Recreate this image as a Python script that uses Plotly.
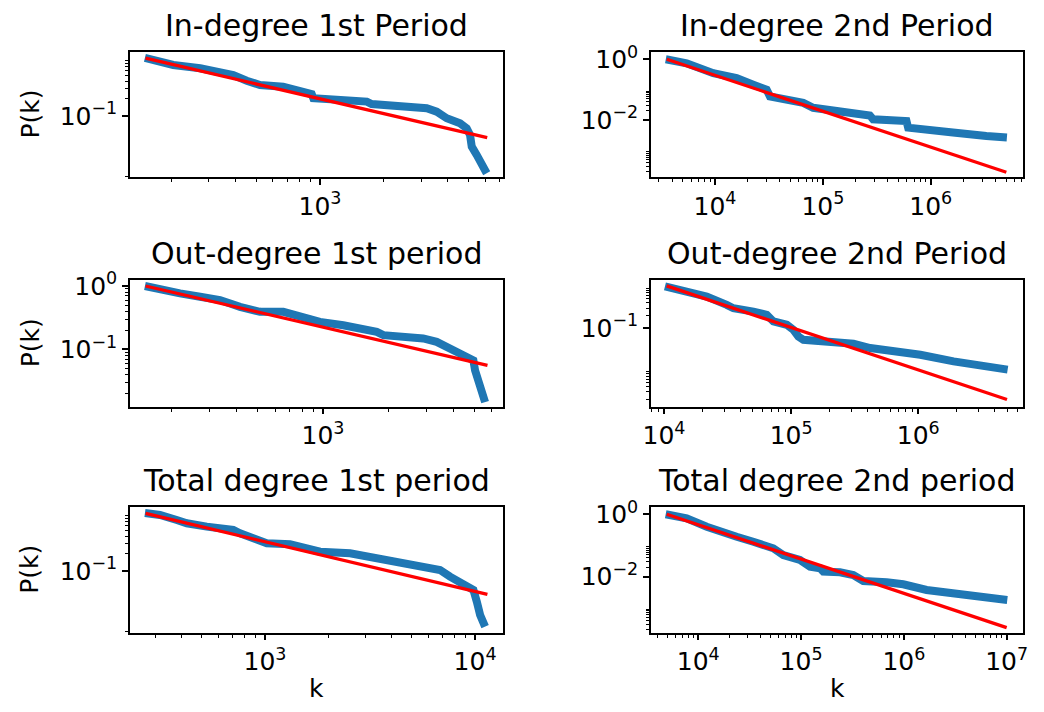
import plotly.graph_objects as go

# page size and the browser's default 8px body margin
PAGE_W, PAGE_H = 1044, 712
BODY = 8
W, H = PAGE_W - 2 * BODY, PAGE_H - 2 * BODY

# ---------------- data ----------------
titles = ["In-degree 1st Period", "In-degree 2nd Period",
          "Out-degree 1st period", "Out-degree 2nd Period",
          "Total degree 1st period", "Total degree 2nd period"]

in1_k = [150, 204, 273, 339, 391, 452, 522, 671, 805, 914, 930, 1155, 1385, 1660,
         1750, 1985, 2378, 2850, 3178, 3540, 3945, 4560, 4900, 5080, 5175, 5460, 5765, 6085]
in1_p = [1.0, 0.757, 0.664, 0.581, 0.509, 0.406, 0.342, 0.320, 0.281, 0.239, 0.202, 0.194,
         0.184, 0.177, 0.161, 0.155, 0.149, 0.145, 0.136, 0.119, 0.0913, 0.0748, 0.0614,
         0.047, 0.0296, 0.0213, 0.0153, 0.0103]
in1_fit_k = [151, 6120]
in1_fit_p = [0.99, 0.0423]

in2_k = [3500, 5470, 9640, 15890, 22640, 30130, 32310, 46100, 65760, 81330, 133900,
         190900, 272500, 292400, 389000, 595800, 617000, 791000, 1607000, 3280000, 5080000]
in2_p = [1.0, 0.741, 0.350, 0.240, 0.146, 0.1, 0.0605, 0.0472, 0.0369, 0.0254, 0.0197,
         0.0174, 0.0142, 0.0106, 0.0100, 0.00927, 0.00565, 0.00498, 0.00389, 0.00301, 0.00267]
in2_fit_k = [3575, 5020000]
in2_fit_p = [1.0, 0.000194]

out1_k = [150, 176, 218, 270, 334, 413, 511, 655, 783, 968, 1241, 1483, 1773, 1903, 2270,
          2911, 3357, 3739, 4307, 4965, 5056, 5240, 5625]
out1_p = [1.0, 0.919, 0.766, 0.676, 0.600, 0.469, 0.391, 0.391, 0.326, 0.271, 0.240, 0.213,
          0.188, 0.167, 0.161, 0.148, 0.131, 0.109, 0.0855, 0.0669, 0.0464, 0.0286, 0.0146]
out1_fit_k = [151, 5770]
out1_fit_p = [1.0, 0.0557]

out2_k = [10180, 15100, 21700, 31170, 35140, 50490, 64400, 72600, 92500, 104300, 114100,
          125000, 169100, 309500, 418800, 567300, 1038000, 1898000, 3478000, 5050000]
out2_p = [1.0, 0.743, 0.565, 0.359, 0.299, 0.248, 0.207, 0.144, 0.120, 0.0912, 0.0631,
          0.0526, 0.048, 0.0423, 0.0334, 0.0304, 0.0231, 0.016, 0.0122, 0.0102]
out2_fit_k = [10500, 4990000]
out2_fit_p = [1.02, 0.00196]

tot1_k = [268, 316, 380, 424, 528, 706, 760, 879, 1019, 1315, 1637, 1828, 2540, 3162, 3800,
          4900, 6105, 6810, 7600, 8480, 9820, 10190, 10570, 11160]
tot1_p = [1.0, 0.925, 0.757, 0.664, 0.581, 0.509, 0.447, 0.366, 0.301, 0.289, 0.246, 0.215,
          0.202, 0.177, 0.155, 0.127, 0.114, 0.104, 0.0798, 0.0614, 0.047, 0.0296, 0.0174, 0.011]
tot1_fit_k = [270, 11450]
tot1_fit_p = [0.98, 0.0396]

tot2_k = [4820, 7710, 12080, 16260, 23640, 34280, 53660, 67150, 97500, 122100, 152800,
          164500, 239000, 322000, 402900, 680000, 986000, 1666000, 3024000, 6380000, 10140000]
tot2_p = [1.0, 0.745, 0.401, 0.277, 0.191, 0.132, 0.0814, 0.0496, 0.0343, 0.0209, 0.0186,
          0.0145, 0.0138, 0.0113, 0.00728, 0.00662, 0.00571, 0.00375, 0.00294, 0.00212, 0.00179]
tot2_fit_k = [4930, 10000000]
tot2_fit_p = [1.0, 0.000232]

# tick values / labels
x_ticks_1 = [1e3]
x_labels_1 = ["10<sup>3</sup>"]
x_ticks_5 = [1e3, 1e4]
x_labels_5 = ["10<sup>3</sup>", "10<sup>4</sup>"]
x_ticks_2 = [1e4, 1e5, 1e6]
x_labels_2 = ["10<sup>4</sup>", "10<sup>5</sup>", "10<sup>6</sup>"]
x_ticks_6 = [1e4, 1e5, 1e6, 1e7]
x_labels_6 = ["10<sup>4</sup>", "10<sup>5</sup>", "10<sup>6</sup>", "10<sup>7</sup>"]
y_ticks_a = [0.1]
y_labels_a = ["10<sup>−1</sup>"]
y_ticks_b = [1, 0.01]
y_labels_b = ["10<sup>0</sup>", "10<sup>−2</sup>"]
y_ticks_c = [1, 0.1]
y_labels_c = ["10<sup>0</sup>", "10<sup>−1</sup>"]

# ---------------- styling / layout ----------------
BLUE = "#1f77b4"
RED = "#ff0000"
FONT = "DejaVu Sans"


def px_x(p):
    return (p - BODY) / W


def px_y(p):
    return 1 - (p - BODY) / H


def minors(decades):
    vals = []
    for d in decades:
        for s in range(2, 10):
            vals.append(s * 10.0 ** d)
    return vals


col_px = [(130, 503), (651, 1023)]
row_px = [(52, 177), (280, 406.5), (507, 632.7)]

panels = [
    (in1_k, in1_p, in1_fit_k, in1_fit_p, [2.106, 3.861], [-2.052, 0.103],
     x_ticks_1, x_labels_1, [2, 3], y_ticks_a, y_labels_a, [-1, -3]),
    (in2_k, in2_p, in2_fit_k, in2_fit_p, [3.407, 6.855], [-3.87, 0.24],
     x_ticks_2, x_labels_2, [3, 4, 5, 6], y_ticks_b, y_labels_b, [-2, -4]),
    (out1_k, out1_p, out1_fit_k, out1_fit_p, [2.107, 3.833], [-1.905, 0.095],
     x_ticks_1, x_labels_1, [2, 3], y_ticks_c, y_labels_c, [-2, -1, 0]),
    (out2_k, out2_p, out2_fit_k, out2_fit_p, [3.898, 6.824], [-2.874, 0.15],
     x_ticks_2, x_labels_2, [3, 4, 5, 6], y_ticks_a, y_labels_a, [-1, -3]),
    (tot1_k, tot1_p, tot1_fit_k, tot1_fit_p, [2.357, 4.133], [-2.064, 0.103],
     x_ticks_5, x_labels_5, [2, 3, 4], y_ticks_a, y_labels_a, [-1, -3]),
    (tot2_k, tot2_p, tot2_fit_k, tot2_fit_p, [3.54, 7.159], [-3.795, 0.234],
     x_ticks_6, x_labels_6, [3, 4, 5, 6, 7], y_ticks_b, y_labels_b, [-2, -4]),
]

fig = go.Figure()
layout = dict(width=W, height=H, autosize=False, margin=dict(l=0, r=0, t=0, b=0, pad=0),
              paper_bgcolor="white", plot_bgcolor="white", showlegend=False,
              font=dict(family=FONT, color="black", size=25))
annotations = []

axis_common = dict(type="log", showline=True, mirror=True, linecolor="black", linewidth=1.5,
                   ticks="outside", ticklen=6, tickwidth=1.5, tickcolor="black",
                   showgrid=False, zeroline=False, tickmode="array", automargin=False,
                   tickfont=dict(family=FONT, size=25, color="black"))

for i, (k, p, fk, fp, xr, yr, xt, xl, xmd, yt, yl, ymd) in enumerate(panels):
    r, c = divmod(i, 2)
    x0, x1 = col_px[c]
    y0, y1 = row_px[r]
    n = "" if i == 0 else str(i + 1)
    xa, ya = "x" + n, "y" + n
    fig.add_trace(go.Scatter(x=k, y=p, mode="lines", xaxis=xa, yaxis=ya,
                             line=dict(color=BLUE, width=8), hoverinfo="skip"))
    fig.add_trace(go.Scatter(x=fk, y=fp, mode="lines", xaxis=xa, yaxis=ya,
                             line=dict(color=RED, width=3.3), hoverinfo="skip"))
    layout["xaxis" + n] = dict(axis_common, domain=[px_x(x0), px_x(x1)], anchor=ya, range=xr,
                               tickvals=xt, ticktext=xl,
                               minor=dict(tickmode="array", tickvals=minors(xmd), ticks="outside",
                                          ticklen=3.5, tickwidth=1.2, tickcolor="black"))
    layout["yaxis" + n] = dict(axis_common, domain=[px_y(y1), px_y(y0)], anchor=xa, range=yr,
                               tickvals=yt, ticktext=yl,
                               minor=dict(tickmode="array", tickvals=minors(ymd), ticks="outside",
                                          ticklen=3.5, tickwidth=1.2, tickcolor="black"))
    annotations.append(dict(text=titles[i], x=px_x((x0 + x1) / 2), y=px_y(y0 - 7),
                            xref="paper", yref="paper", xanchor="center", yanchor="bottom",
                            showarrow=False, font=dict(family=FONT, size=30, color="black")))
    if c == 0:
        annotations.append(dict(text="P(k)", x=px_x(30), y=px_y((y0 + y1) / 2),
                                xref="paper", yref="paper", xanchor="center", yanchor="middle",
                                textangle=-90, showarrow=False,
                                font=dict(family=FONT, size=25, color="black")))
    if r == 2:
        annotations.append(dict(text="k", x=px_x((x0 + x1) / 2), y=px_y(688),
                                xref="paper", yref="paper", xanchor="center", yanchor="middle",
                                showarrow=False, font=dict(family=FONT, size=25, color="black")))

layout["annotations"] = annotations
fig.update_layout(**layout)
fig.write_html("out.html")
